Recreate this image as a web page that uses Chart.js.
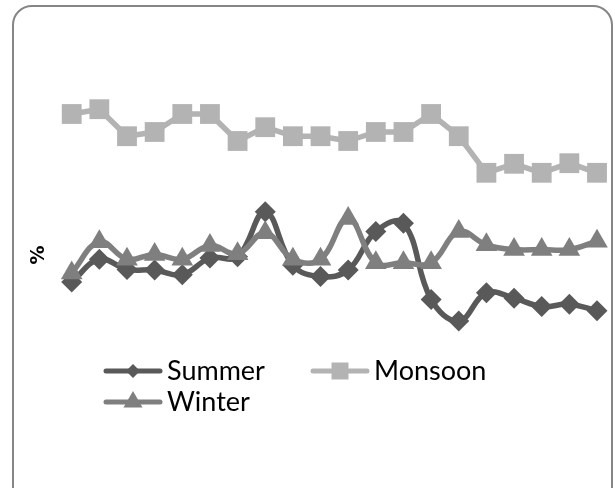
<!DOCTYPE html>
<html>
<head>
<meta charset="utf-8">
<script src="https://cdn.jsdelivr.net/npm/chart.js@4/dist/chart.umd.min.js"></script>
<style>
  body { margin: 0; background: #fff; }
  #wrap { position: relative; width: 615px; height: 488px; overflow: hidden; }
  #frame { position: absolute; left: 12px; top: 5px; width: 601px; height: 530px;
           border: 2px solid #868686; border-radius: 20px; box-sizing: border-box; }
  canvas { position: absolute; left: 0; top: 0; }
</style>
</head>
<body>
<div id="wrap">
  <div id="frame"></div>
  <canvas id="chart" width="615" height="488"></canvas>
</div>
<script>
const categories = ["1","2","3","4","5","6","7","8","9","10","11","12","13","14","15","16","17","18","19","20"];
const summer  = [23.0, 26.8, 25.1, 25.0, 24.2, 27.0, 27.2, 34.7, 25.8, 23.9, 25.0, 31.4, 32.8, 20.1, 16.5, 21.2, 20.3, 18.9, 19.3, 18.2];
const monsoon = [51.0, 51.8, 47.3, 48.0, 51.0, 51.0, 46.5, 48.8, 47.3, 47.3, 46.5, 48.0, 48.0, 51.0, 47.3, 41.2, 42.7, 41.2, 42.8, 41.2];
const winter  = [24.5, 29.7, 26.8, 27.6, 26.8, 29.1, 27.7, 31.2, 26.8, 26.8, 33.6, 26.2, 26.2, 26.2, 31.4, 29.2, 28.4, 28.4, 28.4, 29.8];
const seriesNames = ["Summer", "Monsoon", "Winter"];
const yMin = 0, yMax = 55;

// legend spots, same order as the datasets
const legendSpots = [{ x: 106, y: 371 }, { x: 313, y: 371 }, { x: 106, y: 402 }];
const legendMarkerSize = [7, 12, 11];

const legendPlugin = {
  id: "seasonLegend",
  afterDraw(chart) {
    const ctx = chart.ctx;
    chart.data.datasets.forEach((ds, i) => {
      const p = legendSpots[i];
      ctx.save();
      ctx.strokeStyle = ds.borderColor;
      ctx.lineWidth = 5;
      ctx.lineCap = "round";
      ctx.beginPath();
      ctx.moveTo(p.x, p.y);
      ctx.lineTo(p.x + 54, p.y);
      ctx.stroke();
      ctx.fillStyle = ds.borderColor;
      Chart.helpers.drawPoint(ctx, { pointStyle: ds.pointStyle, radius: legendMarkerSize[i], rotation: 0, borderWidth: 0 }, p.x + 27, p.y);
      ctx.fillStyle = "#000";
      ctx.font = "27px Lato";
      ctx.textBaseline = "middle";
      ctx.fillText(ds.label, p.x + 61, p.y);
      ctx.restore();
    });
  }
};

const ctx = document.getElementById("chart").getContext("2d");
new Chart(ctx, {
  type: "line",
  data: {
    labels: categories,
    datasets: [
      {
        label: seriesNames[0],
        data: summer,
        borderColor: "#595959",
        backgroundColor: "#595959",
        borderWidth: 5.5,
        tension: 0.4,
        pointStyle: "rectRot",
        pointRadius: 10.5,
        pointBorderWidth: 0,
        clip: false,
        order: 2,
      },
      {
        label: seriesNames[1],
        data: monsoon,
        borderColor: "#b3b3b3",
        backgroundColor: "#b3b3b3",
        borderWidth: 5.5,
        tension: 0,
        pointStyle: "rect",
        pointRadius: 14,
        pointBorderWidth: 0,
        clip: false,
        order: 1,
      },
      {
        label: seriesNames[2],
        data: winter,
        borderColor: "#7f7f7f",
        backgroundColor: "#7f7f7f",
        borderWidth: 5.5,
        tension: 0.4,
        pointStyle: "triangle",
        pointRadius: 12.5,
        pointBorderWidth: 0,
        clip: false,
        order: 0,
      },
    ],
  },
  options: {
    responsive: false,
    animation: false,
    borderJoinStyle: "round",
    layout: { padding: { left: 28, right: 18, top: 90, bottom: 68 } },
    scales: {
      x: { display: false },
      y: {
        min: yMin,
        max: yMax,
        grid: { display: false },
        border: { display: false },
        ticks: { display: false },
        title: {
          display: true,
          text: "%",
          color: "#000",
          font: { family: "DejaVu Sans", size: 19, weight: "bold" },
          padding: 0,
        },
        afterFit(scale) { scale.width = 43.7; },
      },
    },
    plugins: {
      legend: { display: false },
      tooltip: { enabled: false },
    },
  },
  plugins: [legendPlugin],
});
</script>
</body>
</html>
